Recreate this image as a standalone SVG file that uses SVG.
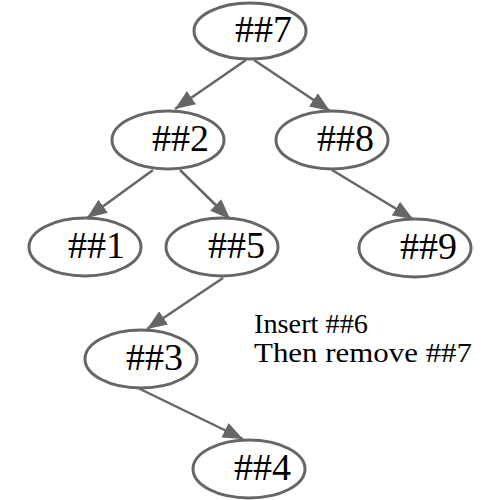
<svg xmlns="http://www.w3.org/2000/svg" width="500" height="500" viewBox="0 0 500 500">
<style>
.node ellipse{fill:#fff;stroke:#666;stroke-width:3}
.node text{font-family:"Liberation Serif","Times New Roman",serif;font-size:38px;fill:#000}
.edge{stroke:#666;stroke-width:2.5;fill:none;marker-end:url(#arrow)}
.note{font-family:"Liberation Serif","Times New Roman",serif;font-size:28px;fill:#000}
</style>
<defs>
<marker id="arrow" markerUnits="userSpaceOnUse" markerWidth="22" markerHeight="18" refX="20" refY="8" orient="auto">
<path d="M0,0 L20,8 L0,16 z" fill="#666"/>
</marker>
</defs>
<rect width="500" height="500" fill="#fff"/>
<g id="connectors">
<line class="edge" x1="246" y1="60" x2="175" y2="109"/>
<line class="edge" x1="254" y1="60" x2="330" y2="111"/>
<line class="edge" x1="153" y1="170" x2="87" y2="218"/>
<line class="edge" x1="180" y1="170" x2="230" y2="219"/>
<line class="edge" x1="332" y1="170" x2="413" y2="219"/>
<line class="edge" x1="223" y1="278" x2="147" y2="329"/>
<line class="edge" x1="138" y1="388" x2="243" y2="439"/>
</g>
<g id="n7" class="node"><ellipse cx="250" cy="31" rx="56" ry="28"/><text x="235" y="42">##7</text></g>
<g id="n2" class="node"><ellipse cx="168" cy="140" rx="56" ry="29"/><text x="152" y="151">##2</text></g>
<g id="n8" class="node"><ellipse cx="332" cy="140" rx="56" ry="29"/><text x="317" y="151">##8</text></g>
<g id="n1" class="node"><ellipse cx="85" cy="247" rx="56" ry="29"/><text x="68" y="258">##1</text></g>
<g id="n5" class="node"><ellipse cx="222" cy="247" rx="56" ry="29"/><text x="208" y="258">##5</text></g>
<g id="n9" class="node"><ellipse cx="415" cy="248" rx="56" ry="29"/><text x="400" y="259">##9</text></g>
<g id="n3" class="node"><ellipse cx="141" cy="359" rx="56" ry="29"/><text x="126" y="370">##3</text></g>
<g id="n4" class="node"><ellipse cx="249" cy="469" rx="56" ry="29"/><text x="234" y="480">##4</text></g>
<text class="note" x="254" y="333" textLength="114" lengthAdjust="spacingAndGlyphs">Insert ##6</text>
<text class="note" x="254" y="362" textLength="218" lengthAdjust="spacingAndGlyphs">Then remove ##7</text>
</svg>
